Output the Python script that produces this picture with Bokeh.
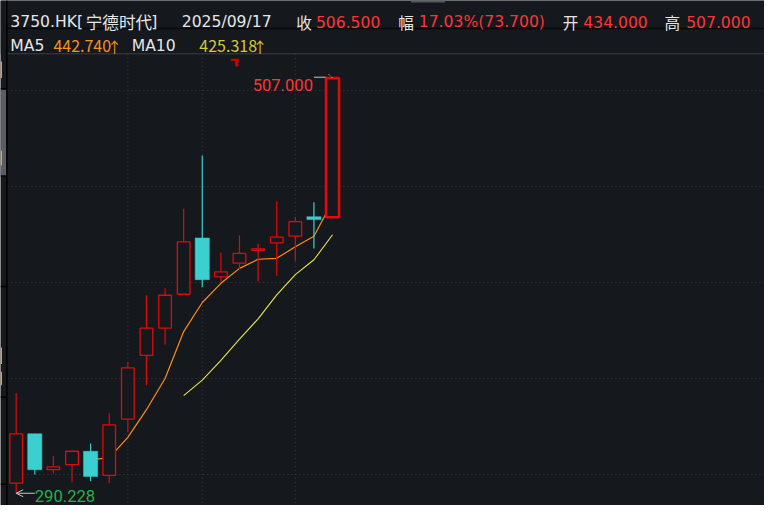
import math
from bokeh.plotting import figure
from bokeh.models import Range1d, Arrow, OpenHead
from bokeh.core.properties import value
from bokeh.embed import file_html
from bokeh.resources import INLINE

# ---------------- data ----------------
opens  = [295.5, 321.2, 302.5, 305.1, 312.1, 299.5, 328.8, 362.1, 376.3, 393.9,
          423.2, 403.0, 410.1, 416.8, 420.7, 424.2, 434.3, 434.0]
closes = [321.2, 302.5, 304.0, 312.1, 299.0, 325.8, 355.6, 376.3, 393.4, 421.2,
          401.5, 405.6, 415.2, 417.6, 423.7, 431.8, 432.8, 506.5]
highs  = [342.4, 321.2, 309.6, 312.1, 316.2, 331.8, 358.6, 393.4, 397.0, 438.4,
          466.2, 415.7, 424.7, 420.2, 442.4, 434.3, 441.9, 507.0]
lows   = [290.228, 300.0, 300.5, 296.0, 296.5, 295.5, 322.2, 346.5, 367.7, 393.9,
          397.5, 400.5, 407.1, 400.5, 403.5, 411.1, 417.7, 434.0]
NaN = float("nan")
ma5  = [NaN, NaN, NaN, NaN, 307.76, 308.68, 319.30, 333.76, 350.02, 374.46,
        389.60, 399.60, 407.38, 412.14, 412.64, 418.70, 424.14, 442.40]
ma10 = [NaN, NaN, NaN, NaN, NaN, NaN, NaN, NaN, NaN, 341.11,
        349.14, 359.45, 370.57, 381.08, 393.55, 404.15, 411.87, 424.89]
grid_prices = [300, 350, 400, 450, 500]
grid_index = [6, 10, 15]

title_code = "3750.HK["
title_name = "宁德时代"
title_end = "]"
date_text = "2025/09/17"
head_keys = ["收", "幅", "开", "高"]
head_vals = ["506.500", "17.03%(73.700)", "434.000", "507.000"]
ma_names = ["MA5", "MA10"]
ma_vals = ["442.740", "425.318"]
high_label = "507.000"
low_label = "290.228"

# ---------------- styling ----------------
BG = "#15181d"
RED = "#e00a0a"
TXT_RED = "#ff3434"
CYAN = "#3ccfcf"
WHITE = "#e6e6e6"
ORANGE = "#ff8c1a"
ORANGE_T = "#f39322"
YELLOW = "#e6e64a"
YELLOW_T = "#d4c83a"
GREEN = "#22b24c"
GRID = "#3a3e46"

# reference-pixel helpers (reference pixel -> data coordinates)
def X(px):
    return (px - 16) / 19.0

def Y(py):
    return 500 - (py - 93) / 1.98

p = figure(width=764, height=505,
           x_range=Range1d(X(0), X(780)), y_range=Range1d(Y(521), Y(0)),
           x_axis_type=None, y_axis_type=None, toolbar_location=None,
           output_backend="svg", min_border=0, outline_line_color=None,
           background_fill_color=BG, border_fill_color=BG)

n = len(closes)
idx = list(range(n))

# grid
p.segment(x0=[X(7)] * len(grid_prices), x1=[X(780)] * len(grid_prices),
          y0=grid_prices, y1=grid_prices, line_color=GRID, line_width=1, line_dash="1 3")
p.segment(x0=grid_index, x1=grid_index, y0=[Y(55)] * len(grid_index),
          y1=[Y(521)] * len(grid_index), line_color=GRID, line_width=1, line_dash="1 3")

# moving averages (under candles)
p.line(idx, ma5, line_color=ORANGE, line_width=1.2)
p.line(idx, ma10, line_color=YELLOW, line_width=1.1)

# candles
up = [c >= o for o, c in zip(opens, closes)]
wick_col = [RED if u else CYAN for u in up]
p.segment(x0=idx, x1=idx, y0=lows, y1=highs, line_color=wick_col, line_width=1.2)

up_i = [i for i in idx if up[i] and i != n - 1]
dn_i = [i for i in idx if not up[i]]
p.vbar(x=up_i, width=0.68, top=[max(opens[i], closes[i]) for i in up_i],
       bottom=[min(opens[i], closes[i]) for i in up_i],
       fill_color=BG, line_color=RED, line_width=1.3)
p.vbar(x=dn_i, width=0.76, top=[opens[i] for i in dn_i],
       bottom=[closes[i] for i in dn_i], fill_color=CYAN, line_color=CYAN, line_width=0.5)
last = n - 1
p.vbar(x=[last], width=0.70, top=[closes[last]], bottom=[opens[last]],
       fill_color=BG, line_color=RED, line_width=2.6)

# header panel
p.quad(left=[X(0)], right=[X(780)], bottom=[Y(55)], top=[Y(0)],
       fill_color=BG, line_color=None)
p.segment(x0=[X(6)], x1=[X(780)], y0=[Y(29)], y1=[Y(29)], line_color="#07080a", line_width=1.5)
p.segment(x0=[X(6)], x1=[X(780)], y0=[Y(55)], y1=[Y(55)], line_color="#3c3f45", line_width=1)
# small tab at the very top
p.quad(left=[X(419)], right=[X(454)], bottom=[Y(2)], top=[Y(0)], fill_color="#55575e", line_color=None)

# cut-off panel at the left edge
p.quad(left=[X(0)], right=[X(6)], bottom=[Y(181)], top=[Y(92)], fill_color="#5b5d66", line_color=None)
p.quad(left=[X(0)] * 4, right=[X(1.5)] * 4,
       bottom=[Y(80), Y(170), Y(375), Y(397)], top=[Y(63), Y(155), Y(358), Y(383)],
       fill_color="#e8a060", line_color=None)
p.segment(x0=[X(0)] * 5, x1=[X(6)] * 5, y0=[Y(v) for v in (91, 181, 295, 409, 499)],
          y1=[Y(v) for v in (91, 181, 295, 409, 499)], line_color="#000000", line_width=1.5)
p.segment(x0=[X(6.5)], x1=[X(6.5)], y0=[Y(0)], y1=[Y(521)], line_color="#000000", line_width=1.5)

def txt(xs, ys, texts, color, font, size, align="left"):
    p.text(x=[X(v) for v in xs], y=[Y(v) for v in ys], text=texts,
           text_color=color, text_font=value(font), text_font_size=value(size),
           text_baseline="alphabetic", text_align=align)

# row 1
txt([10, 154, 185], [22, 22, 22], [title_code, title_end, date_text], WHITE, "DejaVu Sans", "15.6px")
txt([87], [22], [title_name], WHITE, "Noto Sans CJK SC", "16.6px")
txt([302, 406, 574, 678], [22] * 4, head_keys, WHITE, "Noto Sans CJK SC", "15.6px")
txt([322, 427, 595, 700], [22] * 4, head_vals, TXT_RED, "DejaVu Sans", "15.6px")
# row 2
txt([10, 134], [46.5, 46.5], ma_names, WHITE, "DejaVu Sans", "15.6px")
txt([54], [46.5], [ma_vals[0]], ORANGE_T, "Noto Sans CJK SC", "16px")
txt([203], [46.5], [ma_vals[1]], YELLOW_T, "Noto Sans CJK SC", "16px")
txt([116.5], [47.5], ["↑"], ORANGE_T, "Noto Sans CJK SC", "15px", align="center")
txt([265], [47.5], ["↑"], YELLOW_T, "Noto Sans CJK SC", "15px", align="center")

# high / low markers
p.segment(x0=[X(320)], x1=[X(332)], y0=[highs[last]], y1=[highs[last]],
          line_color="#c8c8c8", line_width=1)
p.segment(x0=[X(335)], x1=[X(339)], y0=[Y(76)], y1=[Y(80)],
          line_color="#c8c8c8", line_width=1, line_dash="1 1")
p.text(x=[X(319)], y=[Y(87.5)], text=[high_label], text_color=TXT_RED,
       text_font=value("Roboto"), text_font_size=value("16.6px"),
       text_baseline="alphabetic", text_align="right")
p.text(x=[X(35)], y=[Y(511)], text=[low_label], text_color=GREEN,
       text_font=value("Roboto"), text_font_size=value("16.6px"),
       text_baseline="alphabetic", text_align="left")
p.add_layout(Arrow(end=OpenHead(size=7, line_color="#c8c8c8", line_width=1),
                   x_start=X(35), y_start=lows[0], x_end=X(16), y_end=lows[0],
                   line_color="#c8c8c8", line_width=1))

# small red corner mark
p.quad(left=[X(235), X(239.5)], right=[X(243), X(243)],
       bottom=[Y(62.5), Y(68)], top=[Y(60), Y(60)],
       fill_color="#c80000", line_color=None)

open("out.html", "w").write(file_html(p, INLINE))
